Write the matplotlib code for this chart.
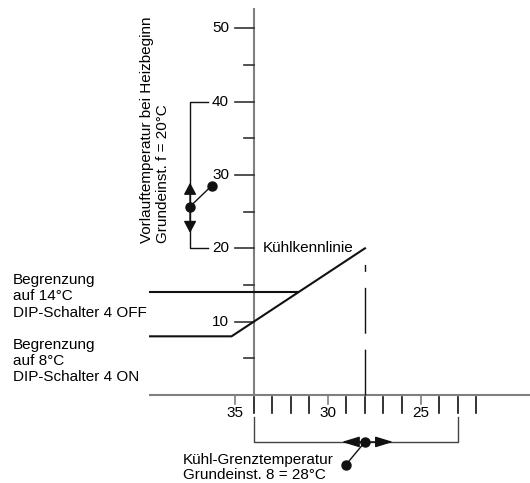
import matplotlib
matplotlib.use("Agg")
import matplotlib.pyplot as plt

plt.rcParams['font.family'] = ['Liberation Sans', 'DejaVu Sans']
plt.rcParams['font.size'] = 11
plt.rcParams['lines.scale_dashes'] = False

# outdoor temperature axis (reversed), flow temperature axis
x_label_ticks = [35, 30, 25]
x_plain_ticks = [34, 33, 32, 31, 29, 28, 27, 26, 24, 23, 22]
y_major_ticks = [10, 20, 30, 40, 50]
y_minor_ticks = [5, 15, 25, 35, 45]

# cooling curve with 8 degC limit, and the 14 degC limit line
curve_out = [39.6, 35.2, 28.0]
curve_flow = [8, 8, 20]
limit14_out = [39.6, 31.6]
limit14_flow = [14, 14]

# setting ranges
heat_range = [20, 40]          # flow temp range at heating start
heat_knob = 25.7
cool_range = [34, 23]          # cooling limit temperature range
cool_default = 28

axis_col = '#7f7f7f'
ink = '#111111'

fig = plt.figure(figsize=(5.3, 4.83), dpi=100)
ax = fig.add_axes([0, 0, 1, 1])
ax.set_xlim(47.70, 19.09)
ax.set_ylim(-12.0, 53.86)
ax.axis('off')

# axes
ax.plot([39.66, 19.09], [0, 0], color=axis_col, lw=1.5, solid_capstyle='butt')
ax.plot([34, 34], [0, 52.8], color=axis_col, lw=1.5, solid_capstyle='butt')

# y ticks
for v in y_major_ticks:
    ax.plot([35.02, 34], [v, v], color='#333333', lw=1.2)
    ax.text(35.34, v, str(v), ha='right', va='center')
for v in y_minor_ticks:
    ax.plot([34.53, 34], [v, v], color='#333333', lw=1.2)

# x ticks
for t in x_label_ticks:
    ax.plot([t, t], [0, -1.2], color=axis_col, lw=1.2)
    ax.text(t, -2.5, str(t), ha='center', va='center')
for t in x_plain_ticks:
    ax.plot([t, t], [-0.25, -2.4], color=ink, lw=1.2)

# curves
ax.plot(curve_out, curve_flow, color=ink, lw=1.5)
ax.plot(limit14_out, limit14_flow, color=ink, lw=1.5)
ax.plot([curve_out[-1], curve_out[-1]], [0, curve_flow[-1]], color=ink, lw=1.0,
        dashes=(33, 11.5, 33, 11.5, 5, 11.5))
ax.text(33.49, 19.54, 'Kühlkennlinie', ha='left', va='baseline')

# left texts (baseline refers to the last line)
ax.text(47.0, 10.68, 'Begrenzung\nauf 14°C\nDIP-Schalter 4 OFF', ha='left', va='baseline',
        linespacing=1.2)
ax.text(47.0, 1.91, 'Begrenzung\nauf 8°C\nDIP-Schalter 4 ON', ha='left', va='baseline',
        linespacing=1.2)

# heating start bracket (left of y axis)
bx, bx2 = 37.44, 36.47
ax.plot([bx2, bx, bx, bx2], [heat_range[1], heat_range[1], heat_range[0], heat_range[0]],
        color=ink, lw=1.0)
ax.annotate('', xy=(bx, 28.95), xytext=(bx, heat_knob),
            arrowprops=dict(arrowstyle='-|>,head_length=0.72,head_width=0.38',
                            mutation_scale=10, color=ink, lw=1.0, shrinkA=0, shrinkB=0))
ax.annotate('', xy=(bx, 22.09), xytext=(bx, heat_knob),
            arrowprops=dict(arrowstyle='-|>,head_length=0.72,head_width=0.38',
                            mutation_scale=10, color=ink, lw=1.0, shrinkA=0, shrinkB=0))
ax.plot([bx, 36.27], [heat_knob, 28.54], color=ink, lw=1.0, marker='o', ms=6.5)
ax.text(39.78, 20.73, 'Vorlauftemperatur bei Heizbeginn', rotation=90, ha='center', va='bottom')
ax.text(38.90, 20.73, 'Grundeinst. f = 20°C', rotation=90, ha='center', va='bottom')

# cooling limit bracket (below x axis)
by_top, by = -3.0, -6.4
ax.plot([cool_range[0], cool_range[0], cool_range[1], cool_range[1]], [by_top, by, by, by_top],
        color='#444444', lw=1.0)
ax.annotate('', xy=(29.25, by), xytext=(cool_default, by),
            arrowprops=dict(arrowstyle='-|>,head_length=1.08,head_width=0.33',
                            mutation_scale=10, color=ink, lw=1.0, shrinkA=0, shrinkB=0))
ax.annotate('', xy=(26.48, by), xytext=(cool_default, by),
            arrowprops=dict(arrowstyle='-|>,head_length=1.08,head_width=0.33',
                            mutation_scale=10, color=ink, lw=1.0, shrinkA=0, shrinkB=0))
ax.plot([cool_default, 29.04], [by, -9.55], color=ink, lw=1.0, marker='o', ms=6.5)
ax.text(37.81, -11.52, 'Kühl-Grenztemperatur\nGrundeinst. 8 = 28°C', ha='left', va='baseline',
        linespacing=1.15)

fig.savefig('out.png', dpi=100)
